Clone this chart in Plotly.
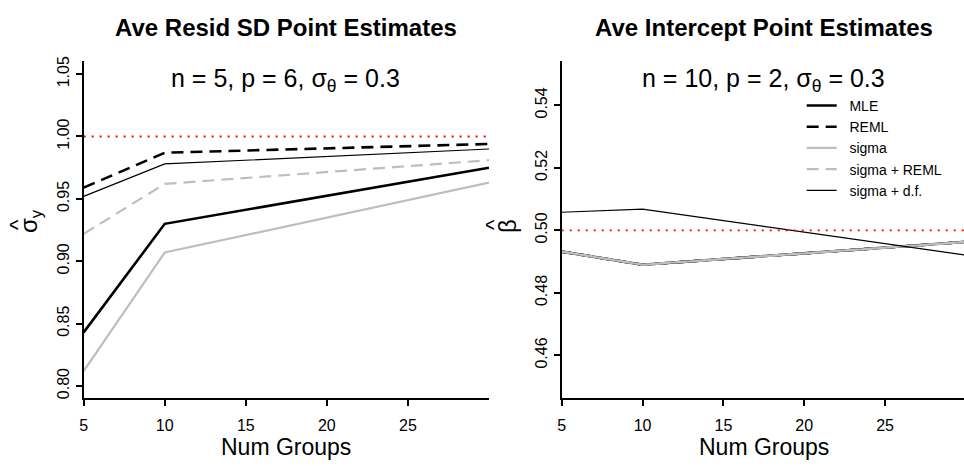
import plotly.graph_objects as go

# ---------------- data ----------------
num_groups = [5, 10, 30]
x_ticks = [5, 10, 15, 20, 25]

series_names = ["MLE", "REML", "sigma", "sigma + REML", "sigma + d.f."]

# Left panel: average residual SD point estimates
sd_mle = [0.843, 0.930, 0.975]
sd_reml = [0.959, 0.987, 0.994]
sd_sigma = [0.812, 0.907, 0.963]
sd_sigma_reml = [0.922, 0.962, 0.981]
sd_sigma_df = [0.952, 0.978, 0.990]
sd_true = 1.00
sd_ticks = [0.80, 0.85, 0.90, 0.95, 1.00, 1.05]

# Right panel: average intercept point estimates
int_mle = [0.4932, 0.4890, 0.4963]
int_reml = [0.4932, 0.4890, 0.4963]
int_sigma = [0.4932, 0.4890, 0.4963]
int_sigma_reml = [0.4932, 0.4890, 0.4963]
int_sigma_df = [0.5058, 0.5068, 0.4921]
int_true = 0.50
int_ticks = [0.46, 0.48, 0.50, 0.52, 0.54]

titles = ["Ave Resid SD Point Estimates", "Ave Intercept Point Estimates"]
subtitles = ["n = 5, p = 6, σ<sub>θ</sub> = 0.3", "n = 10, p = 2, σ<sub>θ</sub> = 0.3"]
x_title = "Num Groups"
y_titles = ["σ<sub>y</sub>", "β"]
hat = "^"

# ---------------- styles ----------------
GRAY = "#BEBEBE"
styles = [
    dict(color="black", width=2.6, dash="solid"),
    dict(color="black", width=2.6, dash="12px,7px"),
    dict(color=GRAY, width=2.2, dash="solid"),
    dict(color=GRAY, width=2.2, dash="12px,7px"),
    dict(color="black", width=1.2, dash="solid"),
]
FONT = "Liberation Sans, Arial, sans-serif"
PAD = "\u00a0\u00a0"

fig = go.Figure()

left_series = [sd_mle, sd_reml, sd_sigma, sd_sigma_reml, sd_sigma_df]
right_series = [int_mle, int_reml, int_sigma, int_sigma_reml, int_sigma_df]

for name, ys, st in zip(series_names, left_series, styles):
    fig.add_trace(go.Scatter(x=num_groups, y=ys, mode="lines", name=name,
                             line=st, showlegend=False, xaxis="x", yaxis="y"))
fig.add_trace(go.Scatter(x=[num_groups[0], num_groups[-1]], y=[sd_true, sd_true],
                         mode="lines", line=dict(color="red", width=1.8, dash="2px,6px"),
                         showlegend=False, xaxis="x", yaxis="y"))

for name, ys, st in zip(series_names, right_series, styles):
    fig.add_trace(go.Scatter(x=num_groups, y=ys, mode="lines", name=PAD + name,
                             line=st, showlegend=True, xaxis="x2", yaxis="y2"))
fig.add_trace(go.Scatter(x=[num_groups[0], num_groups[-1]], y=[int_true, int_true],
                         mode="lines", line=dict(color="red", width=1.8, dash="2px,6px"),
                         showlegend=False, xaxis="x2", yaxis="y2"))

W, H = 964, 466
def px_x(p):
    return p / W
def px_y(p):
    return 1 - p / H

ydom = [px_y(398), px_y(57)]

common_x = dict(showgrid=False, zeroline=False, showline=True, linecolor="black",
                linewidth=2, ticks="outside", ticklen=6, tickwidth=1.5,
                tickcolor="black", tickvals=x_ticks,
                tickfont=dict(family=FONT, size=16, color="black"),
                ticklabelstandoff=6)
common_y = dict(showgrid=False, zeroline=False, showline=True, linecolor="black",
                linewidth=2, ticks="outside", ticklen=6, tickwidth=1.5,
                tickcolor="black", tickangle=-90,
                tickfont=dict(family=FONT, size=16, color="black"), domain=ydom)

fig.update_layout(
    width=W, height=H, autosize=False,
    margin=dict(l=0, r=0, t=0, b=0),
    paper_bgcolor="white", plot_bgcolor="white",
    font=dict(family=FONT, color="black"),
    xaxis=dict(domain=[px_x(80), px_x(487)], range=[5, 30], anchor="y", **common_x),
    yaxis=dict(range=[0.7905, 1.0603], anchor="x", tickvals=sd_ticks,
               tickformat=".2f", **common_y),
    xaxis2=dict(domain=[px_x(560), 1.0], range=[5, 29.88], anchor="y2", **common_x),
    yaxis2=dict(range=[0.4464, 0.5541], anchor="x2", tickvals=int_ticks,
                tickformat=".2f", **common_y),
    legend=dict(x=px_x(801), y=px_y(86), xanchor="left", yanchor="top",
                bgcolor="rgba(0,0,0,0)", font=dict(family=FONT, size=14, color="black"),
                itemwidth=30, tracegroupgap=0),
)

centers_x = [283, 763]
for i in range(2):
    fig.add_annotation(text="<b>" + titles[i] + "</b>", x=px_x(centers_x[i]), y=px_y(23),
                       xref="paper", yref="paper", showarrow=False,
                       xanchor="center", yanchor="middle",
                       font=dict(family=FONT, size=24, color="black"))
    fig.add_annotation(text=subtitles[i], x=px_x(centers_x[i]), y=px_y(76),
                       xref="paper", yref="paper", showarrow=False,
                       xanchor="center", yanchor="middle",
                       font=dict(family=FONT, size=25, color="black"))
    fig.add_annotation(text=x_title, x=px_x(centers_x[i]), y=px_y(448),
                       xref="paper", yref="paper", showarrow=False,
                       xanchor="center", yanchor="middle",
                       font=dict(family=FONT, size=23, color="black"))

# y-axis titles (hat drawn as its own rotated glyph)
ytitle_pos = [(26, 219), (505, 224)]
hat_pos = [(13, 222), (491, 222)]
for i in range(2):
    fig.add_annotation(text=y_titles[i], x=px_x(ytitle_pos[i][0]), y=px_y(ytitle_pos[i][1]),
                       xref="paper", yref="paper", showarrow=False, textangle=-90,
                       xanchor="center", yanchor="middle",
                       font=dict(family=FONT, size=24, color="black"))
    fig.add_annotation(text=hat, x=px_x(hat_pos[i][0]), y=px_y(hat_pos[i][1]),
                       xref="paper", yref="paper", showarrow=False, textangle=-90,
                       xanchor="center", yanchor="middle",
                       font=dict(family=FONT, size=22, color="black"))

fig.write_html("out.html")
